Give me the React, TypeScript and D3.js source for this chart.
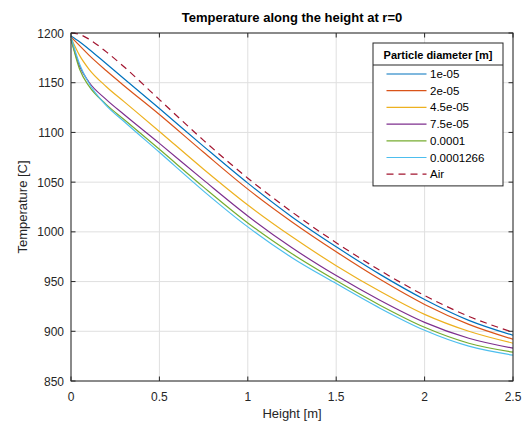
import React from "react";
import * as d3 from "d3";

const width = 524;
const height = 423;
const margin = { top: 33, right: 11, bottom: 42, left: 71 };

// height along the bed [m]
const heights = [0, 0.05, 0.1, 0.2, 0.3, 0.5, 0.75, 1, 1.25, 1.5, 1.75, 2, 2.25, 2.5];

// temperature [C] per particle diameter
const t1e05 = [1197, 1191, 1184, 1169, 1154, 1124, 1086, 1049, 1015, 985, 957, 932, 911, 896];
const t2e05 = [1196, 1187, 1178, 1162, 1147, 1118, 1080, 1043, 1010, 980, 952, 927, 907, 892];
const t45e05 = [1195, 1177, 1164, 1146, 1131, 1101, 1063, 1027, 995, 966, 940, 917, 900, 888];
const t75e05 = [1194, 1166, 1151, 1133, 1118, 1089, 1052, 1016, 984, 956, 931, 909, 893, 883];
const t1e04 = [1194, 1163, 1147, 1128, 1113, 1083, 1045, 1009, 978, 951, 926, 904, 888, 879];
const t1266e04 = [1196, 1168, 1150, 1127, 1111, 1080, 1041, 1005, 974, 948, 923, 901, 885, 876];
const tAir = [1200, 1198.5, 1194, 1181, 1166, 1133, 1092, 1054, 1020, 989, 961, 936, 915, 899];

const seriesNames = ["1e-05", "2e-05", "4.5e-05", "7.5e-05", "0.0001", "0.0001266", "Air"];
const seriesValues = [t1e05, t2e05, t45e05, t75e05, t1e04, t1266e04, tAir];
const seriesColors = ["#0072BD", "#D95319", "#EDB120", "#7E2F8E", "#77AC30", "#4DBEEE", "#A2142F"];

const xTicks = [0, 0.5, 1, 1.5, 2, 2.5];
const yTicks = [850, 900, 950, 1000, 1050, 1100, 1150, 1200];

const font = "Liberation Sans, Arial, Helvetica, sans-serif";
const axisColor = "#262626";

export default function App() {
  const x = d3
    .scaleLinear()
    .domain([0, 2.5])
    .range([margin.left, width - margin.right]);
  const y = d3
    .scaleLinear()
    .domain([850, 1200])
    .range([height - margin.bottom, margin.top]);

  const line = d3
    .line<[number, number]>()
    .x(d => x(d[0]))
    .y(d => y(d[1]))
    .curve(d3.curveMonotoneX);

  const x0 = x(0);
  const x1 = x(2.5);
  const y0 = y(850);
  const y1 = y(1200);
  const tick = 4.5;

  // legend box
  const lg = { x: 373, y: 43, w: 130, titleH: 22, rowH: 16.7 };
  const lgH = lg.titleH + seriesNames.length * lg.rowH + 4;

  return (
    <svg
      width={width}
      height={height}
      style={{ position: "absolute", left: 0, top: 0, background: "#fff" }}
      fontFamily={font}
    >
      <rect x={0} y={0} width={width} height={height} fill="#fff" />

      {/* grid */}
      {xTicks.map(t => (
        <line key={"gx" + t} x1={x(t)} x2={x(t)} y1={y1} y2={y0} stroke="#dfdfdf" strokeWidth={1} />
      ))}
      {yTicks.map(t => (
        <line key={"gy" + t} x1={x0} x2={x1} y1={y(t)} y2={y(t)} stroke="#dfdfdf" strokeWidth={1} />
      ))}

      {/* data lines */}
      {seriesValues.map((vals, i) => (
        <path
          key={seriesNames[i]}
          d={line(heights.map((h, j) => [h, vals[j]] as [number, number])) || ""}
          fill="none"
          stroke={seriesColors[i]}
          strokeWidth={1.2}
          strokeDasharray={seriesNames[i] === "Air" ? "7,5" : undefined}
        />
      ))}

      {/* axes box */}
      <rect x={x0} y={y1} width={x1 - x0} height={y0 - y1} fill="none" stroke={axisColor} strokeWidth={1} />

      {/* ticks */}
      {xTicks.map(t => (
        <g key={"tx" + t}>
          <line x1={x(t)} x2={x(t)} y1={y0} y2={y0 - tick} stroke={axisColor} />
          <line x1={x(t)} x2={x(t)} y1={y1} y2={y1 + tick} stroke={axisColor} />
          <text x={x(t)} y={y0 + 20} textAnchor="middle" fontSize={12} fill={axisColor}>
            {t}
          </text>
        </g>
      ))}
      {yTicks.map(t => (
        <g key={"ty" + t}>
          <line x1={x0} x2={x0 + tick} y1={y(t)} y2={y(t)} stroke={axisColor} />
          <line x1={x1} x2={x1 - tick} y1={y(t)} y2={y(t)} stroke={axisColor} />
          <text x={x0 - 7} y={y(t) + 4.5} textAnchor="end" fontSize={12} fill={axisColor}>
            {t}
          </text>
        </g>
      ))}

      {/* labels */}
      <text
        x={(x0 + x1) / 2}
        y={21.5}
        textAnchor="middle"
        fontSize={13}
        fontWeight="bold"
        fill="#000"
      >
        Temperature along the height at r=0
      </text>
      <text x={(x0 + x1) / 2} y={418} textAnchor="middle" fontSize={13} fill={axisColor}>
        Height [m]
      </text>
      <text
        transform={`translate(27,${(y0 + y1) / 2}) rotate(-90)`}
        textAnchor="middle"
        fontSize={13}
        fill={axisColor}
      >
        Temperature [C]
      </text>

      {/* legend */}
      <g>
        <rect x={lg.x} y={lg.y} width={lg.w} height={lgH} fill="#fff" stroke={axisColor} strokeWidth={1} />
        <line x1={lg.x} x2={lg.x + lg.w} y1={lg.y + lg.titleH} y2={lg.y + lg.titleH} stroke={axisColor} />
        <text x={lg.x + lg.w / 2} y={lg.y + 15.5} textAnchor="middle" fontSize={11} fontWeight="bold" fill="#000">
          Particle diameter [m]
        </text>
        {seriesNames.map((name, i) => {
          const cy = lg.y + lg.titleH + 9 + i * lg.rowH;
          return (
            <g key={"lg" + name}>
              <line
                x1={lg.x + 13.5}
                x2={lg.x + 53.5}
                y1={cy}
                y2={cy}
                stroke={seriesColors[i]}
                strokeWidth={1.2}
                strokeDasharray={name === "Air" ? "7,5" : undefined}
              />
              <text x={lg.x + 57} y={cy + 4} fontSize={11.5} fill="#000">
                {name}
              </text>
            </g>
          );
        })}
      </g>
    </svg>
  );
}
